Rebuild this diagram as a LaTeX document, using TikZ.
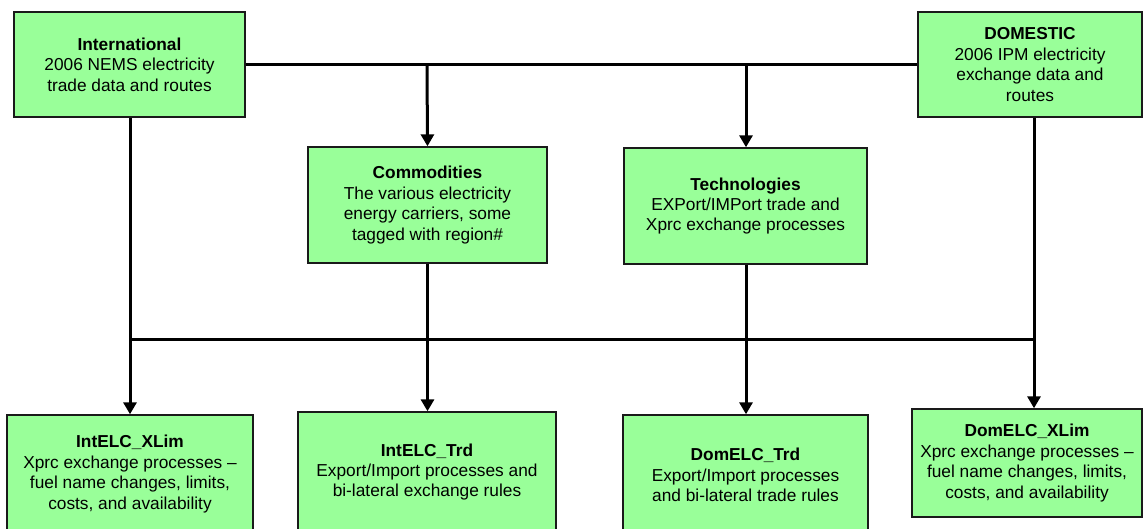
\documentclass[tikz,border=0pt]{standalone}
\usepackage{fontspec}
\setmainfont{Liberation Sans}
\usetikzlibrary{arrows.meta}

\definecolor{boxfill}{RGB}{153,255,153}
\definecolor{boxline}{RGB}{26,26,26}

\tikzset{
  databox/.style={draw=boxline, line width=1.4pt, fill=boxfill, align=center,
    inner sep=0pt, font=\fontsize{17.3}{20.4}\selectfont},
  link/.style={line width=3pt, draw=black},
  feed/.style={link, -{Triangle[length=12pt, width=13pt]}},
}

\begin{document}
\begin{tikzpicture}[x=1pt, y=-1pt]
  \useasboundingbox (0,0) rectangle (1143,529);
  \clip (0,0) rectangle (1143,529);

  % source data sets
  \node[databox, minimum width=231, minimum height=105] (intl) at (129.5,64.5)
    {\textbf{International}\\2006 NEMS electricity\\trade data and routes};
  \node[databox, minimum width=224, minimum height=105] (dom) at (1030,64.5)
    {\textbf{DOMESTIC}\\2006 IPM electricity\\exchange data and\\routes};

  % sets derived from the sources
  \node[databox, minimum width=239, minimum height=116] (comm) at (427.5,205)
    {\textbf{Commodities}\\The various electricity\\energy carriers, some\\tagged with region\#};
  \node[databox, minimum width=243, minimum height=116] (tech) at (745.5,206)
    {\textbf{Technologies}\\EXPort/IMPort trade and\\Xprc exchange processes};

  % workbooks
  \node[databox, minimum width=246, minimum height=118] (ixlim) at (130,474)
    {\textbf{IntELC\_XLim}\\Xprc exchange processes –\\fuel name changes, limits,\\costs, and availability};
  \node[databox, minimum width=258, minimum height=120] (itrd) at (427,472)
    {\textbf{IntELC\_Trd}\\Export/Import processes and\\bi-lateral exchange rules};
  \node[databox, minimum width=245, minimum height=120] (dtrd) at (745.5,475)
    {\textbf{DomELC\_Trd}\\Export/Import processes\\and bi-lateral trade rules};
  \node[databox, minimum width=230, minimum height=108] (dxlim) at (1027,463)
    {\textbf{DomELC\_XLim}\\Xprc exchange processes –\\fuel name changes, limits,\\costs, and availability};

  % junction points on the two buses
  \coordinate (tA) at (427,65);
  \coordinate (tB) at (746,65);
  \coordinate (bL) at (130,339);
  \coordinate (bR) at (1034,339);

  % upper bus between the two sources
  \draw[link] (intl.east |- tA) -- (dom.west |- tA);
  \draw[feed] (tA) -- (comm.north);
  \draw[feed] (tB) -- (tech.north -| tB);

  % lower bus
  \draw[link] (bL) -- (bR);
  \draw[feed] (intl.south -| bL) -- (ixlim.north -| bL);
  \draw[feed] (dom.south -| bR) -- (dxlim.north -| bR);
  \draw[feed] (comm.south) -- (itrd.north -| comm.south);
  \draw[feed] (tech.south -| tB) -- (dtrd.north -| tB);
\end{tikzpicture}
\end{document}
